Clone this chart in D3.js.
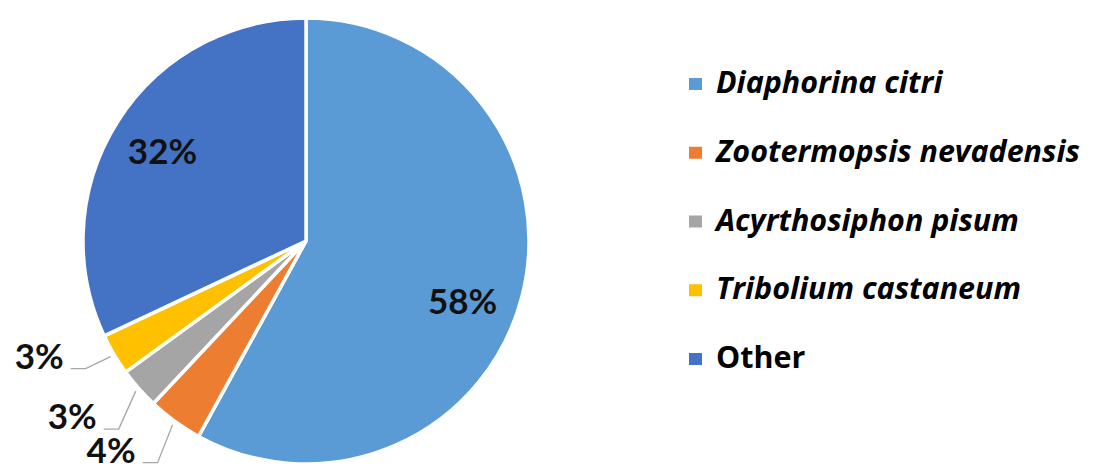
<!DOCTYPE html>
<html>
<head>
<meta charset="utf-8">
<script src="https://cdn.jsdelivr.net/npm/d3@7"></script>
<style>
  html, body { margin: 0; padding: 0; background: #fff; }
  svg { display: block; }
</style>
</head>
<body>
<svg id="chart" width="1094" height="471"></svg>
<script>
// Share of sequences by species
const species = ["Diaphorina citri", "Zootermopsis nevadensis", "Acyrthosiphon pisum", "Tribolium castaneum", "Other"];
const shares = [58, 4, 3, 3, 32];
const italicNames = [true, true, true, true, false];
const colors = ["#5B9BD5", "#ED7D31", "#A5A5A5", "#FFC000", "#4472C4"];

const data = species.map((name, i) => ({ name, value: shares[i], italic: italicNames[i], color: colors[i] }));

const svg = d3.select("#chart");
const cx = 306, cy = 241, R = 223;
const FONT = "Lato, 'Open Sans', sans-serif";
const LEGEND_FONT = "'Open Sans', Lato, sans-serif";

const pie = d3.pie().value(d => d.value).sort(null);
const arcs = pie(data);
const arc = d3.arc().innerRadius(0).outerRadius(R);

const g = svg.append("g").attr("transform", `translate(${cx},${cy})`);

g.selectAll("path.slice")
  .data(arcs)
  .join("path")
  .attr("class", "slice")
  .attr("d", arc)
  .attr("fill", d => d.data.color)
  .attr("stroke", "#fff")
  .attr("stroke-width", 3.5)
  .attr("stroke-linejoin", "round");

// Labels: large slices inside, small ones outside with leader lines
const inside = d => d.data.value >= 10;
const labelArc = d3.arc().innerRadius(170).outerRadius(170);
const insideNudge = { "Diaphorina citri": [-8, 17], "Other": [0, 0] };
const leaderOffset = {
  "Zootermopsis nevadensis": [-15, 38],
  "Acyrthosiphon pisum": [-17, 38],
  "Tribolium castaneum": [-25, 12]
};

const fmt = d => d.data.value + "%";

arcs.filter(inside).forEach(d => {
  const [x, y] = labelArc.centroid(d);
  const [nx, ny] = insideNudge[d.data.name] || [0, 0];
  g.append("text")
    .attr("x", x + nx)
    .attr("y", y + ny)
    .attr("text-anchor", "middle")
    .attr("dominant-baseline", "central")
    .attr("font-family", FONT)
    .attr("font-weight", 700)
    .attr("font-size", 35)
    .attr("fill", "#111")
    .text(fmt(d));
});

arcs.filter(d => !inside(d)).forEach(d => {
  const mid = (d.startAngle + d.endAngle) / 2;
  const rs = R + 4;
  const sx = rs * Math.sin(mid), sy = -rs * Math.cos(mid);
  const [ox, oy] = leaderOffset[d.data.name];
  const ex = sx + ox, ey = sy + oy;
  const hx = ex - 15;
  g.append("polyline")
    .attr("points", [[sx, sy], [ex, ey], [hx, ey]].map(p => p.join(",")).join(" "))
    .attr("fill", "none")
    .attr("stroke", "#a6a6a6")
    .attr("stroke-width", 1.3);
  g.append("text")
    .attr("x", hx - 7)
    .attr("y", ey)
    .attr("text-anchor", "end")
    .attr("font-family", FONT)
    .attr("font-weight", 700)
    .attr("font-size", 35)
    .attr("fill", "#111")
    .text(fmt(d));
});

// Legend
const legend = svg.append("g").attr("transform", "translate(689,0)");
const rowY = d3.scalePoint().domain(species).range([93, 368]);
const rows = legend.selectAll("g.row")
  .data(data)
  .join("g")
  .attr("class", "row")
  .attr("transform", d => `translate(0,${rowY(d.name)})`);

rows.append("rect")
  .attr("x", 0)
  .attr("y", -15)
  .attr("width", 13)
  .attr("height", 12)
  .attr("fill", d => d.color);

const legendText = rows.append("text")
  .attr("x", 27)
  .attr("y", 0)
  .attr("font-family", LEGEND_FONT)
  .attr("font-weight", 700)
  .attr("font-style", d => d.italic ? "italic" : "normal")
  .attr("font-size", 27)
  .attr("fill", "#000")
  .text(d => d.name);

// Size the legend type so the longest entry spans the legend column
const legendWidth = 364;
let widest = 0;
legendText.each(function () { widest = Math.max(widest, this.getComputedTextLength()); });
if (widest > 0) legendText.attr("font-size", 27 * legendWidth / widest);
</script>
</body>
</html>
